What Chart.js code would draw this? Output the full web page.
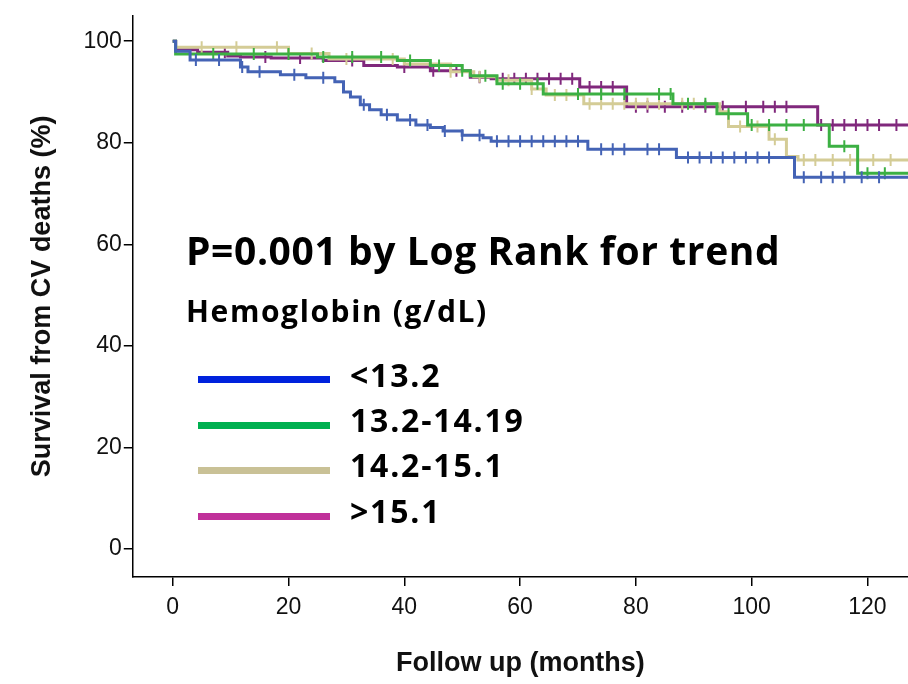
<!DOCTYPE html>
<html>
<head>
<meta charset="utf-8">
<script src="https://cdn.jsdelivr.net/npm/chart.js@4"></script>
<style>
  body { margin: 0; background: #fff; font-family: Arial, "Liberation Sans", sans-serif; }
  #wrap { position: relative; width: 908px; height: 684px; }
  .note { position: absolute; font-family: "Open Sans", sans-serif; font-weight: bold; color: #000; white-space: nowrap; line-height: 1; }
  .key { position: absolute; height: 7px; width: 132px; left: 198px; }
</style>
</head>
<body>
<div id="wrap">
  <canvas id="km" width="908" height="684"></canvas>
  <div class="note" style="left:186px;top:230px;font-size:39px;letter-spacing:0.6px;">P=0.001 by Log Rank for trend</div>
  <div class="note" style="left:186px;top:296px;font-size:30px;letter-spacing:1.6px;">Hemoglobin (g/dL)</div>
  <div class="key" style="top:376px;background:#0022dd"></div>
  <div class="note" style="left:350px;top:359px;font-size:32px;letter-spacing:1.8px;">&lt;13.2</div>
  <div class="key" style="top:422px;background:#00b050"></div>
  <div class="note" style="left:350px;top:404px;font-size:32px;letter-spacing:1.8px;">13.2-14.19</div>
  <div class="key" style="top:467px;background:#c9c196"></div>
  <div class="note" style="left:350px;top:449px;font-size:32px;letter-spacing:1.8px;">14.2-15.1</div>
  <div class="key" style="top:513px;background:#c0309a"></div>
  <div class="note" style="left:350px;top:495px;font-size:32px;letter-spacing:1.8px;">&gt;15.1</div>
</div>
<script>
// step points [month, survival %]
const blueSteps = [[0,100],[0.5,98],[3,96.3],[11.7,94.9],[13,94],[18.6,93.4],[23,92.8],[28,92],[29.5,90],[30.7,89],[32.4,87.5],[34,86.5],[36,85.5],[38.8,84.5],[42,83.5],[44.5,83],[46.7,82.3],[50,81.5],[53.6,81],[55,80.3],[71.7,78.7],[87,77.1],[107.4,73.2],[127,73.2]];
const greenSteps = [[0,100],[0.5,97.5],[25,96.9],[38.8,96.2],[44.5,95.2],[50,94.2],[51.4,93.2],[56,91.6],[64,89.6],[86.4,87.7],[94,85.7],[99.3,83.5],[113.4,79.3],[118.3,74],[127,74]];
const tanSteps = [[0,100],[0.5,98.8],[20,97.6],[27,96.5],[40,95.5],[48,94],[52,93],[56,92.3],[62,90.6],[64.5,89.4],[71,87.7],[94.5,86.1],[96,83.2],[103,80.7],[106,77.3],[108,76.6],[127,76.6]];
const purpleSteps = [[0,100],[0.5,98.3],[4.3,97.8],[9.5,97.1],[11.7,96.9],[17,96.7],[26,96.2],[33,95.2],[38.8,94.9],[44.5,94.2],[51.4,92.9],[55,92.6],[70.3,91],[78.4,87.1],[111.4,83.5],[127,83.5]];

// censored times (months)
const blueCens = [4,8,12,15,21,26,33,37,41,44,47,50,53,56,58,60,62,64,66,68,70,74,76,78,82,84,89,91,93,95,97,99,101,103,109,112,114,116,119,122];
const greenCens = [7,14,20,26,31,36,41,46,50,54,57,60,63,70,74,78,84,86,89,92,96,100,103,106,109,116,120,123];
const tanCens = [5,11,18,24,30,38,48,53,58,62,66,68,72,74,76,78,80,82,84,88,90,98,101,104,109,111,114,117,121,124];
const purpleCens = [9,16,22,31,40,45,49,53,57,59,61,63,65,67,69,72,74,76,80,82,85,88,92,95,99,102,104,106,112,114,116,118,120,122,125];

const lineColors = ['#4463b5', '#3cb043', '#d4cc96', '#80287c'];

function survAt(steps, t) {
  let v = steps[0][1];
  for (const [x, y] of steps) { if (x <= t) v = y; }
  return v;
}
function censPoints(steps, times) {
  return times.map(t => ({ x: t, y: survAt(steps, t) }));
}

const groups = [
  [blueSteps, blueCens], [greenSteps, greenCens], [tanSteps, tanCens], [purpleSteps, purpleCens]
];
const datasets = [];
groups.forEach(([steps, cens], i) => {
  datasets.push({
    data: steps.map(([x, y]) => ({ x, y })),
    stepped: true, borderColor: lineColors[i], borderWidth: 3,
    pointRadius: 0, fill: false
  });
  datasets.push({
    data: censPoints(steps, cens), showLine: false,
    pointStyle: 'line', rotation: 90, pointRadius: 6,
    pointBorderColor: lineColors[i], pointBorderWidth: 2
  });
});

const tickFont = { family: 'Arial, "Liberation Sans"', size: 23 };
const titleFont = { family: 'Arial, "Liberation Sans"', size: 27, weight: 'bold' };
const axisGrid = { display: true, drawOnChartArea: false, drawTicks: true, tickLength: 9, tickColor: '#000', lineWidth: 1.5 };

new Chart(document.getElementById('km'), {
  type: 'line',
  data: { datasets },
  options: {
    responsive: false, animation: false,
    layout: { autoPadding: false, padding: { top: 10, right: 0, left: 22, bottom: 0 } },
    plugins: { legend: { display: false }, tooltip: { enabled: false } },
    scales: {
      x: {
        type: 'linear', min: -6.9, max: 127,
        afterBuildTicks: s => { s.ticks = [0,20,40,60,80,100,120].map(v => ({ value: v })); },
        grid: axisGrid,
        border: { color: '#000', width: 1.5 },
        ticks: { color: '#111', font: tickFont, padding: 8 },
        title: { display: true, text: 'Follow up (months)', color: '#111', font: titleFont, padding: { top: 18 } }
      },
      y: {
        type: 'linear', min: -5.5, max: 105,
        afterBuildTicks: s => { s.ticks = [0,20,40,60,80,100].map(v => ({ value: v })); },
        grid: axisGrid,
        border: { color: '#000', width: 1.5 },
        ticks: { color: '#111', font: tickFont, padding: 2 },
        title: { display: true, text: 'Survival from CV deaths (%)', color: '#111', font: titleFont, padding: { bottom: 23 } }
      }
    }
  }
});
</script>
</body>
</html>
